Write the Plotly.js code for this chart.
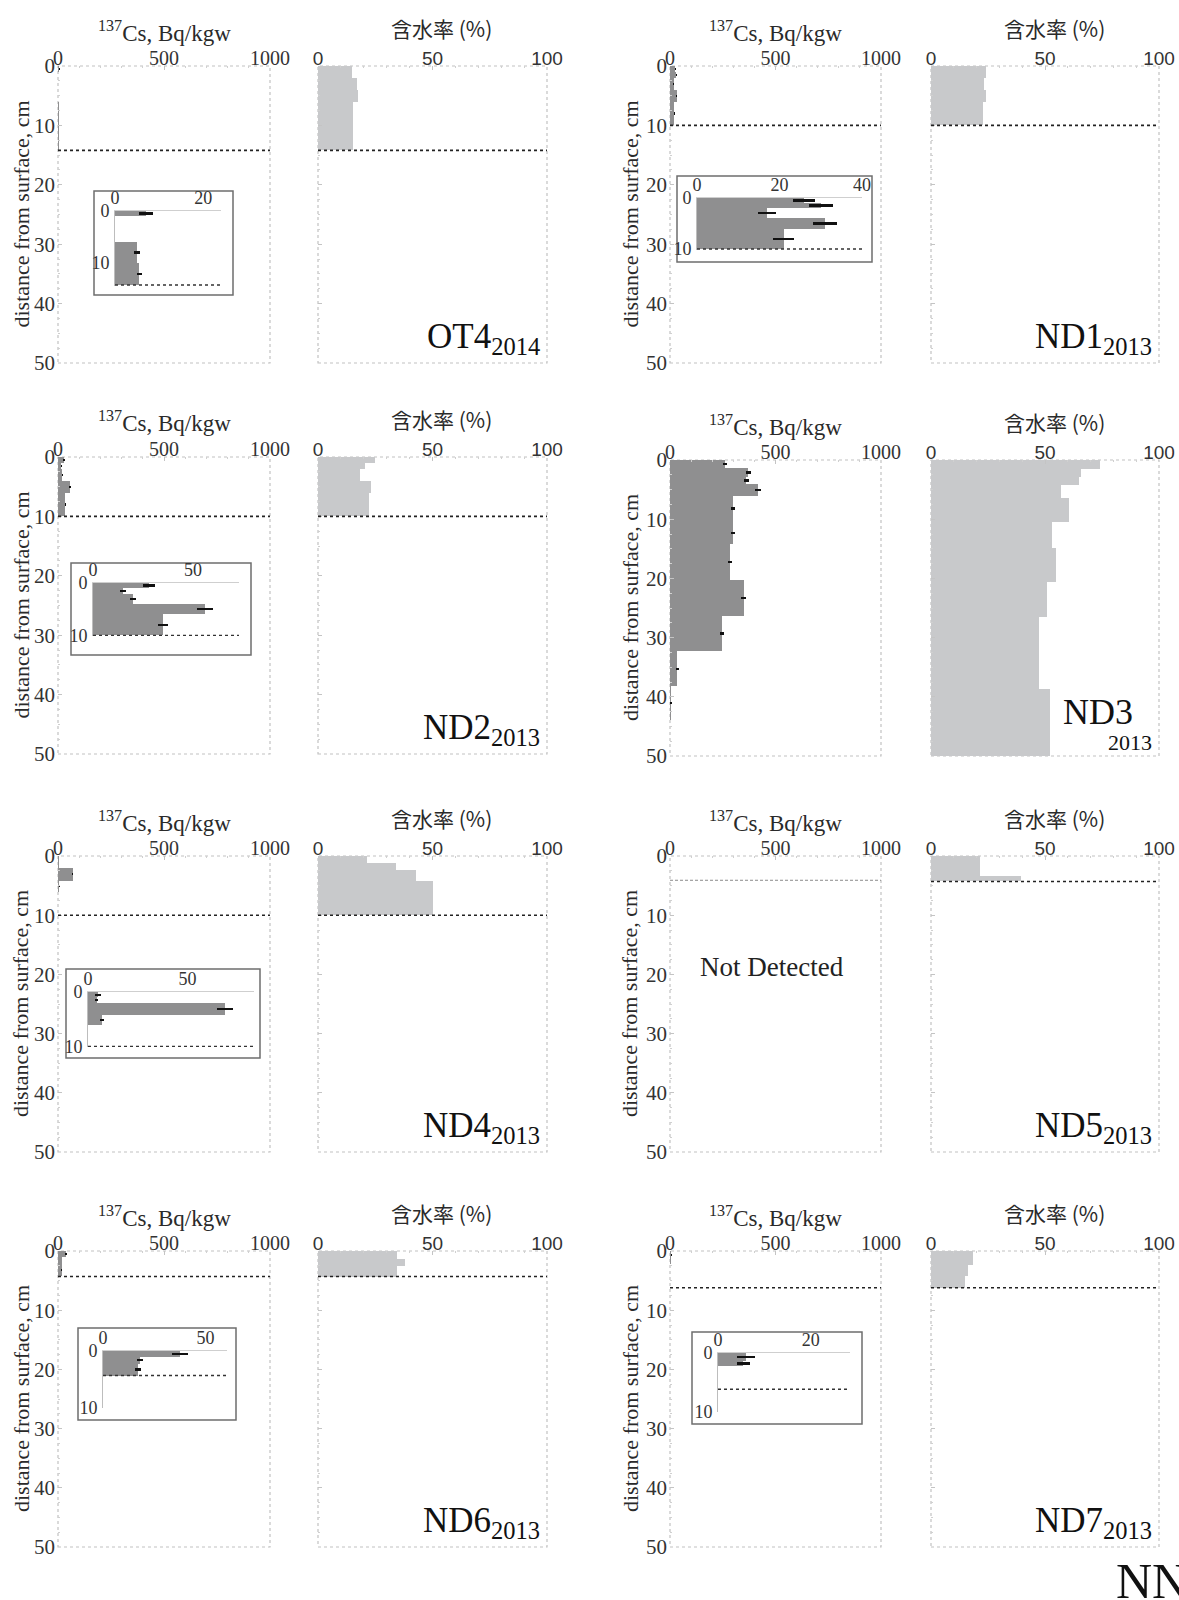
<!DOCTYPE html>
<html>
<head>
<meta charset="utf-8">
<script src="https://cdn.plot.ly/plotly-3.0.1.min.js"></script>
<style>
  html, body { margin: 0; padding: 0; background: #fff; }
  #chart { width: 1179px; height: 1600px; }
</style>
</head>
<body>
<div id="chart"></div>
<script>
// ---- Soil core profiles: 137Cs (Bq/kgw) and water content (%) vs depth (cm) ----
// Layer edges are depths in cm; each value belongs to the layer between two edges.

// OT4 (2014)
const OT4_csEdges = [0, 1, 6, 10, 14.2];
const OT4_cs      = [7, null, 5, 5.5];
const OT4_csErr   = [1.5, null, 0.6, 0.5];
const OT4_wEdges  = [0, 2, 4, 6, 14.2];
const OT4_w       = [14.8, 17.1, 17.6, 15.5];
const OT4_depth   = 14.2;

// ND1 (2013)
const ND1_csEdges = [0, 1, 2, 4, 6, 10];
const ND1_cs      = [26, 30, 17, 31, 21];
const ND1_csErr   = [2.7, 2.9, 2.2, 3, 2.5];
const ND1_wEdges  = [0, 2, 4, 6, 10];
const ND1_w       = [24, 23.2, 24.3, 23];
const ND1_depth   = 10;

// ND2 (2013)
const ND2_csEdges = [0, 1, 2, 4, 6, 10];
const ND2_cs      = [28, 15, 20, 56, 35];
const ND2_csErr   = [3, 1.5, 1.5, 4, 2.5];
const ND2_wEdges  = [0, 1, 2, 4, 6, 10];
const ND2_w       = [25, 20.5, 18.5, 23, 22.3];
const ND2_depth   = 10;

// ND3 (2013)
const ND3_csEdges = [0, 1.4, 2.8, 4.1, 6, 10.4, 14.2, 20.2, 26.3, 32.3, 38.2, 44];
const ND3_cs      = [262, 372, 362, 416, 297, 298, 285, 350, 245, 35, 5];
const ND3_csErr   = [10, 14, 12, 14, 10, 10, 10, 12, 10, 8, 3];
const ND3_wEdges  = [0, 1.5, 2.8, 4.3, 6.4, 10.4, 14.8, 20.6, 26.5, 38.6, 50];
const ND3_w       = [74, 66, 65, 57, 60.5, 53, 55, 51, 47.5, 52];
const ND3_depth   = null;

// ND4 (2013)
const ND4_csEdges = [0, 1, 2, 4.2, 6];
const ND4_cs      = [5, 4.3, 69, 7];
const ND4_csErr   = [1.3, 0.6, 4, 0.9];
const ND4_wEdges  = [0, 1.2, 2.4, 4.2, 10];
const ND4_w       = [21.5, 34, 43, 50];
const ND4_depth   = 10;

// ND5 (2013) - 137Cs not detected
const ND5_csEdges = [];
const ND5_cs      = [];
const ND5_csErr   = [];
const ND5_wEdges  = [0, 3.3, 4.3];
const ND5_w       = [21.3, 39.5];
const ND5_depth   = 4.1;

// ND6 (2013)
const ND6_csEdges = [0, 1, 2.2, 4.3];
const ND6_cs      = [37.5, 18, 17];
const ND6_csErr   = [4, 1.5, 1.3];
const ND6_wEdges  = [0, 1.4, 2.5, 4.4];
const ND6_w       = [34.5, 38, 34.5];
const ND6_depth   = 4.3;

// ND7 (2013)
const ND7_csEdges = [0, 1.4, 2.2];
const ND7_cs      = [6, 5.5];
const ND7_csErr   = [2, 1.4];
const ND7_wEdges  = [0, 2.4, 4.3, 6.2];
const ND7_w       = [18.3, 16.3, 15];
const ND7_depth   = 6.2;

// axis tick values
const csTicks    = [0, 500, 1000];
const wTicks     = [0, 50, 100];
const depthTicks = [0, 10, 20, 30, 40, 50];

// ---------------- page geometry (pixels) ----------------
const W = 1179, H = 1600;
const fx = v => v / W;
const fy = v => 1 - v / H;

const COLS = [
  { cs: [58, 270], w: [318, 547], ytitle: 21 },
  { cs: [670, 881], w: [931, 1159], ytitle: 630 }
];
const ROWS = [
  [[66, 363], [66, 363]],
  [[457, 754], [460, 756]],
  [[856, 1152], [856, 1152]],
  [[1251, 1547], [1251, 1547]]
];

const SERIF = 'Liberation Serif, Times New Roman, serif';
const SANS = 'Liberation Sans, Arial, sans-serif';
const CJK = 'Noto Sans CJK JP, Noto Sans CJK SC, sans-serif';
const CS_COLOR = '#8f8f90';
const W_COLOR = '#c8c9cb';
const TXT = '#2a2a2a';

const panels = [
  { name: 'OT4', year: '2014', col: 0, row: 0, csE: OT4_csEdges, cs: OT4_cs, csErr: OT4_csErr, wE: OT4_wEdges, w: OT4_w, depth: OT4_depth,
    inset: { box: [94, 191, 233, 295], x: [115, 221], y: [211, 286], xmax: 24, ymax: 14.4, ticks: [0, 20] } },
  { name: 'ND1', year: '2013', col: 1, row: 0, csE: ND1_csEdges, cs: ND1_cs, csErr: ND1_csErr, wE: ND1_wEdges, w: ND1_w, depth: ND1_depth,
    inset: { box: [677, 176, 872, 262], x: [697, 862], y: [198, 250], xmax: 40, ymax: 10.2, ticks: [0, 20, 40] } },
  { name: 'ND2', year: '2013', col: 0, row: 1, csE: ND2_csEdges, cs: ND2_cs, csErr: ND2_csErr, wE: ND2_wEdges, w: ND2_w, depth: ND2_depth,
    inset: { box: [71, 563, 251, 655], x: [93, 239], y: [583, 636], xmax: 73, ymax: 10.1, ticks: [0, 50] } },
  { name: 'ND3', year: '2013', col: 1, row: 1, csE: ND3_csEdges, cs: ND3_cs, csErr: ND3_csErr, wE: ND3_wEdges, w: ND3_w, depth: ND3_depth,
    inset: null, stacked: true },
  { name: 'ND4', year: '2013', col: 0, row: 2, csE: ND4_csEdges, cs: ND4_cs, csErr: ND4_csErr, wE: ND4_wEdges, w: ND4_w, depth: ND4_depth,
    inset: { box: [66, 969, 260, 1058], x: [88, 254], y: [992, 1047], xmax: 83.4, ymax: 10.1, ticks: [0, 50] } },
  { name: 'ND5', year: '2013', col: 1, row: 2, csE: ND5_csEdges, cs: ND5_cs, csErr: ND5_csErr, wE: ND5_wEdges, w: ND5_w, depth: ND5_depth,
    inset: null, notDetected: true },
  { name: 'ND6', year: '2013', col: 0, row: 3, csE: ND6_csEdges, cs: ND6_cs, csErr: ND6_csErr, wE: ND6_wEdges, w: ND6_w, depth: ND6_depth,
    inset: { box: [78, 1328, 236, 1420], x: [103, 227], y: [1351, 1408], xmax: 60.5, ymax: 10, ticks: [0, 50] } },
  { name: 'ND7', year: '2013', col: 1, row: 3, csE: ND7_csEdges, cs: ND7_cs, csErr: ND7_csErr, wE: ND7_wEdges, w: ND7_w, depth: ND7_depth,
    inset: { box: [692, 1332, 862, 1424], x: [718, 850], y: [1353, 1412], xmax: 28.5, ymax: 10.1, ticks: [0, 20] } }
];

// ---------------- builders ----------------
function layerBars(edges, vals, errs, xa, ya, color, errThick) {
  const y = [], wd = [], x = [], e = [];
  for (let i = 0; i < vals.length; i++) {
    if (vals[i] == null) continue;
    y.push((edges[i] + edges[i + 1]) / 2);
    wd.push(edges[i + 1] - edges[i]);
    x.push(vals[i]);
    e.push(errs ? errs[i] : 0);
  }
  return {
    type: 'bar', orientation: 'h', x: x, y: y, width: wd, base: 0,
    xaxis: xa, yaxis: ya,
    marker: { color: color, line: { width: 0 } },
    error_x: errs ? { type: 'data', array: e, visible: true, color: '#111', thickness: errThick, width: 0 } : { visible: false },
    hoverinfo: 'skip', showlegend: false
  };
}

const data = [];
const layout = {
  width: W, height: H,
  margin: { l: 0, r: 0, t: 0, b: 0 },
  paper_bgcolor: '#fff', plot_bgcolor: 'rgba(0,0,0,0)',
  showlegend: false, bargap: 0,
  shapes: [], annotations: []
};

let axN = 0;
function newAxes(xspec, yspec) {
  axN += 1;
  const xk = axN === 1 ? 'xaxis' : 'xaxis' + axN;
  const yk = axN === 1 ? 'yaxis' : 'yaxis' + axN;
  const xr = axN === 1 ? 'x' : 'x' + axN;
  const yr = axN === 1 ? 'y' : 'y' + axN;
  layout[xk] = Object.assign({ anchor: yr, showgrid: false, zeroline: false, fixedrange: true }, xspec);
  layout[yk] = Object.assign({ anchor: xr, showgrid: false, zeroline: false, fixedrange: true }, yspec);
  return [xr, yr];
}

function mainAxes(xpx, ypx, xrange, xticks, tickFont, showY) {
  return newAxes(
    { domain: [fx(xpx[0]), fx(xpx[1])], range: xrange, side: 'top', tickvals: xticks,
      ticks: 'inside', ticklen: 4, tickcolor: '#c4c4c4', showline: false,
      tickfont: tickFont, ticklabelstandoff: -4,
      minor: { ticks: 'inside', ticklen: 2, tickcolor: '#d0d0d0', dtick: (xrange[1] / 10) } },
    { domain: [fy(ypx[1]), fy(ypx[0])], range: [50, 0], tickvals: depthTicks,
      ticks: 'inside', ticklen: 4, tickcolor: '#c4c4c4', showline: false,
      showticklabels: showY, ticklabelstandoff: 2,
      tickfont: { family: SERIF, size: 21, color: '#333' },
      minor: { ticks: 'inside', ticklen: 2, tickcolor: '#d0d0d0', dtick: 2.5 } }
  );
}

function frame(xr, yr) {
  layout.shapes.push({
    type: 'rect', xref: xr + ' domain', yref: yr + ' domain', x0: 0, x1: 1, y0: 0, y1: 1,
    line: { color: '#c2c2c2', width: 1.2, dash: 'dot' }, fillcolor: 'rgba(0,0,0,0)', layer: 'below'
  });
}

function depthLine(xr, yr, d, style) {
  layout.shapes.push(Object.assign({
    type: 'line', xref: xr + ' domain', yref: yr, x0: 0, x1: 1, y0: d, y1: d,
    line: { color: '#222', width: 1.6, dash: 'dot' }, layer: 'above'
  }, style || {}));
}

function ann(o) {
  layout.annotations.push(Object.assign({ xref: 'paper', yref: 'paper', showarrow: false }, o));
}

panels.forEach(p => {
  const c = COLS[p.col];
  const rowPx = ROWS[p.row][p.col];

  // 137Cs panel
  const [cx, cy] = mainAxes(c.cs, rowPx, [0, 1000], csTicks, { family: SERIF, size: 20, color: '#333' }, true);
  frame(cx, cy);
  if (p.cs.length) data.push(layerBars(p.csE, p.cs, p.csErr, cx, cy, CS_COLOR, 2.2));
  if (p.depth != null) {
    depthLine(cx, cy, p.depth, p.notDetected ? { line: { color: '#8a8a8a', width: 1, dash: '3px,2px' } } : null);
  }

  // water content panel
  const [wx, wy] = mainAxes(c.w, rowPx, [0, 100], wTicks, { family: SANS, size: 19, color: '#333' }, false);
  frame(wx, wy);
  data.push(layerBars(p.wE, p.w, null, wx, wy, W_COLOR, 0));
  if (p.depth != null) {
    const wd = p.name === 'ND5' ? 4.3 : p.depth;
    depthLine(wx, wy, wd);
  }

  // titles
  ann({ x: fx((c.cs[0] + c.cs[1]) / 2), y: fy(rowPx[0] - 35), xanchor: 'center', yanchor: 'middle',
        text: '<sup>137</sup>Cs, Bq/kgw', font: { family: SERIF, size: 23, color: TXT } });
  ann({ x: fx((c.w[0] + c.w[1]) / 2 + 9), y: fy(rowPx[0] - 38), xanchor: 'center', yanchor: 'middle',
        text: '含水率 (%)', font: { family: CJK, size: 21, color: TXT } });
  ann({ x: fx(c.ytitle), y: fy((rowPx[0] + rowPx[1]) / 2), xanchor: 'center', yanchor: 'middle', textangle: -90,
        text: 'distance from surface, cm', font: { family: SERIF, size: 22, color: TXT } });

  // site label
  if (p.stacked) {
    ann({ x: fx(c.w[1] - 24), y: fy(rowPx[1] - 22), xanchor: 'right', yanchor: 'bottom',
          text: p.name, font: { family: SERIF, size: 36, color: '#111' } });
    ann({ x: fx(c.w[1] - 5), y: fy(rowPx[1] + 1), xanchor: 'right', yanchor: 'bottom',
          text: p.year, font: { family: SERIF, size: 22, color: '#111' } });
  } else {
    ann({ x: fx(c.w[1] - 5), y: fy(rowPx[1] - 1), xanchor: 'right', yanchor: 'bottom',
          text: p.name + '<sub>' + p.year + '</sub>', font: { family: SERIF, size: 35, color: '#111' } });
  }

  if (p.notDetected) {
    ann({ x: fx(772), y: fy(rowPx[0] + 111), xanchor: 'center', yanchor: 'middle',
          text: 'Not Detected', font: { family: SERIF, size: 27, color: '#222' } });
  }

  // enlarged inset of the surface layers
  if (p.inset) {
    const s = p.inset;
    layout.shapes.push({
      type: 'rect', xref: 'paper', yref: 'paper',
      x0: fx(s.box[0]), x1: fx(s.box[2]), y0: fy(s.box[3]), y1: fy(s.box[1]),
      line: { color: '#6e6e6e', width: 1.5 }, fillcolor: '#fff', layer: 'below'
    });
    const [ix, iy] = newAxes(
      { domain: [fx(s.x[0]), fx(s.x[1])], range: [0, s.xmax], side: 'top', tickvals: s.ticks,
        ticks: '', showline: true, linecolor: '#cfcfcf', linewidth: 1, ticklabelstandoff: -1,
        tickfont: { family: SERIF, size: 18, color: '#333' } },
      { domain: [fy(s.y[1]), fy(s.y[0])], range: [s.ymax, 0], tickvals: [0, 10],
        ticks: '', showline: true, linecolor: '#bdbdbd', linewidth: 1, ticklabelstandoff: 1,
        tickfont: { family: SERIF, size: 18, color: '#333' } }
    );
    data.push(layerBars(p.csE, p.cs, p.csErr, ix, iy, CS_COLOR, 2.4));
    depthLine(ix, iy, p.depth, { line: { color: '#333', width: 1.5, dash: 'dot' } });
  }
});

// partial label of the next figure panel at the page edge
ann({ x: fx(1114), y: fy(1611), xanchor: 'left', yanchor: 'bottom',
      text: 'NN', font: { family: SERIF, size: 50, color: '#111' } });

Plotly.newPlot('chart', data, layout, { staticPlot: true, displayModeBar: false });
</script>
</body>
</html>
